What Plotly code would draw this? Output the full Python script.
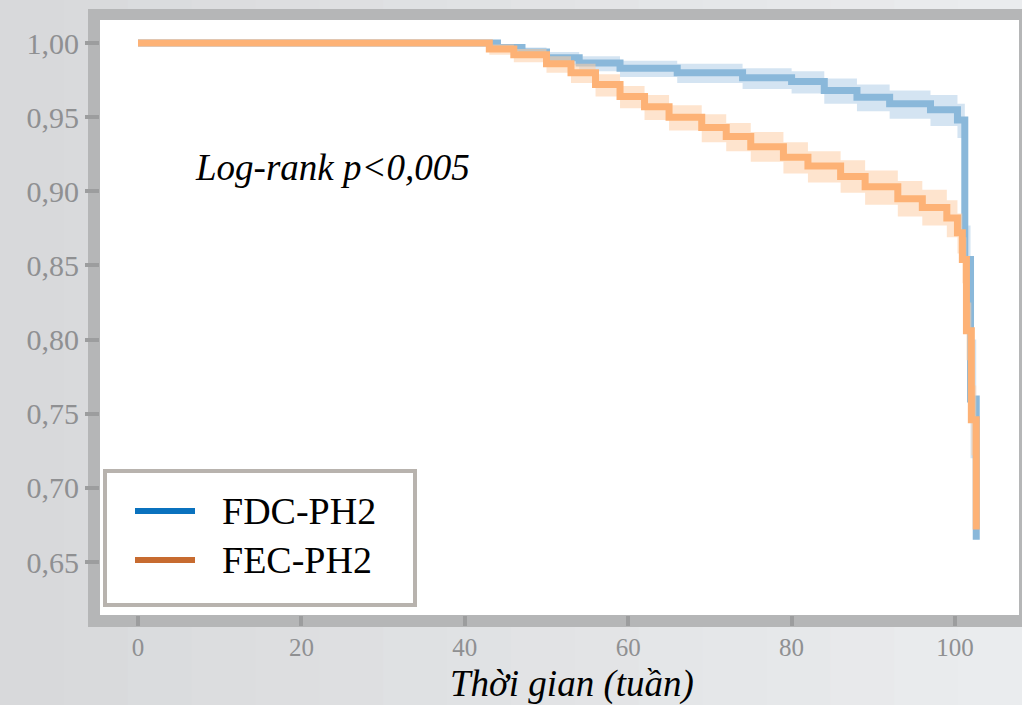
import plotly.graph_objects as go

# ---------------- data ----------------
t_fdc = [0, 44, 47, 50, 54, 59, 66, 74, 80, 84, 88, 92, 97, 100.3, 101.2, 101.9, 102.6]
s_fdc = [1.0, 0.997, 0.994, 0.990, 0.9865, 0.983, 0.980, 0.9765, 0.974, 0.968, 0.9635, 0.959, 0.955, 0.948, 0.854, 0.760, 0.665]
lo_fdc = [1.0, 0.994, 0.990, 0.985, 0.981, 0.977, 0.973, 0.969, 0.966, 0.959, 0.954, 0.949, 0.944, 0.936, 0.830, 0.720, 0.635]
hi_fdc = [1.0, 0.999, 0.997, 0.994, 0.991, 0.988, 0.986, 0.983, 0.981, 0.976, 0.972, 0.968, 0.965, 0.959, 0.877, 0.800, 0.700]

t_fec = [0, 43, 46, 50, 53, 56, 59, 62, 65, 69, 72, 75, 79, 82, 86, 89, 93, 96, 99, 100.3, 100.9, 101.4, 102.0, 102.6]
s_fec = [1.0, 0.996, 0.992, 0.986, 0.980, 0.972, 0.964, 0.957, 0.950, 0.943, 0.937, 0.930, 0.923, 0.917, 0.910, 0.903, 0.895, 0.889, 0.882, 0.872, 0.854, 0.806, 0.746, 0.672]
lo_fec = [1.0, 0.992, 0.987, 0.980, 0.973, 0.964, 0.956, 0.948, 0.941, 0.933, 0.927, 0.920, 0.912, 0.906, 0.899, 0.891, 0.883, 0.877, 0.869, 0.858, 0.838, 0.786, 0.722, 0.645]
hi_fec = [1.0, 0.999, 0.996, 0.991, 0.986, 0.979, 0.971, 0.965, 0.958, 0.952, 0.946, 0.940, 0.933, 0.927, 0.921, 0.914, 0.907, 0.901, 0.894, 0.885, 0.869, 0.825, 0.769, 0.700]

series_names = ["FDC-PH2", "FEC-PH2"]
x_ticks = [0, 20, 40, 60, 80, 100]
x_tick_labels = ["0", "20", "40", "60", "80", "100"]
y_ticks = [1.00, 0.95, 0.90, 0.85, 0.80, 0.75, 0.70, 0.65]
y_tick_labels = ["1,00", "0,95", "0,90", "0,85", "0,80", "0,75", "0,70", "0,65"]
annotation_text = "Log-rank p<0,005"
x_title = "Thời gian (tuần)"

# ---------------- styles ----------------
SERIF = "Liberation Serif"
BLUE_LEG, ORANGE_LEG = "#0a72be", "#c76b30"
BLUE_LINE, ORANGE_LINE = "#8ab8da", "#fdb276"
BLUE_BAND, ORANGE_BAND = "rgba(160,196,226,0.45)", "rgba(253,205,165,0.55)"
FRAME = "#b5b6b7"

fig = go.Figure()

def add_km(t, s, lo, hi, line_col, band_col, name):
    fig.add_trace(go.Scatter(x=t, y=hi, mode="lines", line=dict(width=0, shape="hv"),
                             hoverinfo="skip", showlegend=False))
    fig.add_trace(go.Scatter(x=t, y=lo, mode="lines", line=dict(width=0, shape="hv"),
                             fill="tonexty", fillcolor=band_col, hoverinfo="skip", showlegend=False))
    fig.add_trace(go.Scatter(x=t, y=s, mode="lines", name=name,
                             line=dict(color=line_col, width=7, shape="hv"), showlegend=False))

add_km(t_fdc, s_fdc, lo_fdc, hi_fdc, BLUE_LINE, BLUE_BAND, series_names[0])
add_km(t_fec, s_fec, lo_fec, hi_fec, ORANGE_LINE, ORANGE_BAND, series_names[1])

# plot area geometry in pixels (for layout placement)
FW, FH = 1022, 705
L, R, T, B = 100, 1019, 20, 615
W, H = R - L, B - T
def px(x):
    return (x - L) / W
def py(y):
    return (B - y) / H

shapes = []
# soft background gradient (left darker, right lighter)
n_strips = 16
c0, c1 = (216, 217, 219), (234, 236, 238)
for i in range(n_strips):
    f = i / (n_strips - 1)
    col = "rgb(%d,%d,%d)" % tuple(round(a + (b - a) * f) for a, b in zip(c0, c1))
    shapes.append(dict(type="rect", xref="paper", yref="paper",
                       x0=px(i * FW / n_strips), x1=px((i + 1) * FW / n_strips + 1),
                       y0=py(FH), y1=py(0), line=dict(width=0), fillcolor=col, layer="below"))
# white plotting area on top of the gradient
shapes.append(dict(type="rect", xref="paper", yref="paper", x0=0, x1=1, y0=0, y1=1,
                   line=dict(width=0), fillcolor="white", layer="below"))
# thick grey frame
for (x0, x1, y0, y1) in [(88, 100, 9, 627), (88, 1022, 9, 20), (88, 1022, 615, 627), (1019, 1022, 9, 627)]:
    shapes.append(dict(type="rect", xref="paper", yref="paper", x0=px(x0), x1=px(x1),
                       y0=py(y1), y1=py(y0), line=dict(width=0), fillcolor=FRAME, layer="below"))
# legend box
shapes += [
    dict(type="rect", xref="paper", yref="paper", x0=px(105), x1=px(415), y0=py(605), y1=py(471),
         line=dict(color="#b8b3ae", width=4), fillcolor="white", layer="above"),
    dict(type="line", xref="paper", yref="paper", x0=px(135), x1=px(195), y0=py(511), y1=py(511),
         line=dict(color=BLUE_LEG, width=6), layer="above"),
    dict(type="line", xref="paper", yref="paper", x0=px(135), x1=px(195), y0=py(560), y1=py(560),
         line=dict(color=ORANGE_LEG, width=6), layer="above"),
]
annotations = [
    dict(text=series_names[0], xref="paper", yref="paper", x=px(220), y=py(511), xanchor="left",
         yanchor="middle", showarrow=False, font=dict(family=SERIF, size=38, color="black")),
    dict(text=series_names[1], xref="paper", yref="paper", x=px(220), y=py(560), xanchor="left",
         yanchor="middle", showarrow=False, font=dict(family=SERIF, size=38, color="black")),
    dict(text="<i>" + annotation_text + "</i>", xref="paper", yref="paper", x=px(193), y=py(167),
         xanchor="left", yanchor="middle", showarrow=False,
         font=dict(family=SERIF, size=37, color="black")),
    dict(text="<i>" + x_title + "</i>", xref="paper", yref="paper", x=px(572), y=py(707),
         xanchor="center", yanchor="bottom", showarrow=False,
         font=dict(family=SERIF, size=37, color="black")),
]

fig.update_layout(
    width=FW, height=FH,
    margin=dict(l=L, r=FW - R, t=T, b=FH - B),
    paper_bgcolor="#dfe0e2", plot_bgcolor="white",
    showlegend=False, shapes=shapes, annotations=annotations,
    xaxis=dict(range=[(L - 138) / 8.17, (R - 138) / 8.17], tickvals=x_ticks, ticktext=x_tick_labels,
               showgrid=False, zeroline=False, showline=False,
               ticks="outside", ticklen=10, tickwidth=4, tickcolor="#9c9d9e",
               tickfont=dict(family=SERIF, size=25, color="#8f9092")),
    yaxis=dict(range=[1 - (B - 43) / 1483, 1 + (43 - T) / 1483], tickvals=y_ticks, ticktext=y_tick_labels,
               showgrid=False, zeroline=False, showline=False,
               ticks="outside", ticklen=14, tickwidth=4, tickcolor="#9c9d9e",
               tickfont=dict(family=SERIF, size=30, color="#8f9092")),
)

fig.write_html("out.html")
